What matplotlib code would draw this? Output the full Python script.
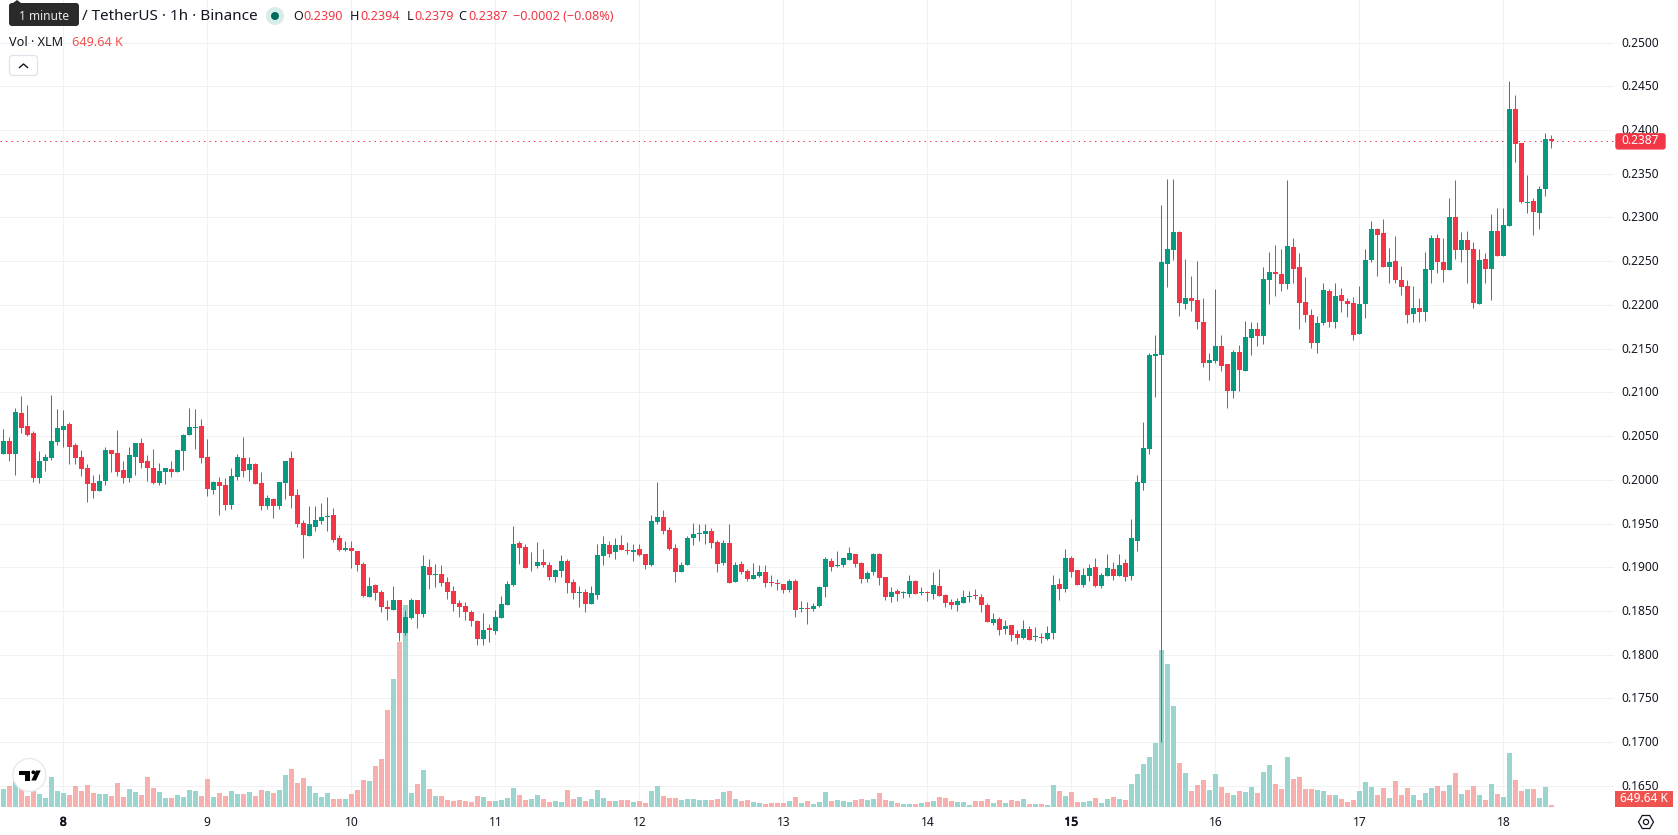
import numpy as np
import matplotlib
matplotlib.use("Agg")
import matplotlib.pyplot as plt
import matplotlib.patheffects as pe
from matplotlib.patches import Circle, FancyBboxPatch, Polygon, Rectangle, RegularPolygon
from matplotlib.transforms import ScaledTranslation

plt.rcParams['font.family'] = ['Noto Sans', 'DejaVu Sans']

# XLM/USDT hourly candles, prices in units of 0.0001
opens = [
    2030, 2044, 2030, 2076, 2061, 2053, 2002, 2021, 2025, 2043,
    2057, 2064, 2040, 2026, 2013, 1996, 1987, 1999, 2034, 2031,
    2011, 2002, 2026, 2042, 2021, 2014, 1996, 2009, 2012, 2009,
    2033, 2051, 2059, 2061, 2026, 1988, 1997, 1994, 1971, 2003,
    2025, 2011, 2018, 1996, 1970, 1978, 1970, 1996, 2025, 1983,
    1951, 1936, 1946, 1953, 1958, 1960, 1933, 1920, 1922, 1918,
    1904, 1866, 1880, 1872, 1854, 1851, 1863, 1825, 1842, 1862,
    1847, 1900, 1891, 1892, 1883, 1873, 1859, 1856, 1849, 1838,
    1818, 1830, 1827, 1842, 1857, 1880, 1928, 1923, 1902, 1901,
    1906, 1903, 1889, 1896, 1907, 1883, 1871, 1872, 1858, 1868,
    1913, 1925, 1917, 1925, 1920, 1917, 1921, 1915, 1902, 1952,
    1958, 1943, 1922, 1894, 1902, 1933, 1938, 1938, 1941, 1929,
    1905, 1928, 1883, 1904, 1896, 1886, 1890, 1894, 1883, 1882,
    1881, 1874, 1884, 1852, 1853, 1852, 1856, 1877, 1907, 1901,
    1903, 1908, 1915, 1905, 1887, 1894, 1915, 1889, 1866, 1873,
    1871, 1869, 1884, 1871, 1872, 1869, 1879, 1868, 1860, 1857,
    1859, 1866, 1868, 1866, 1857, 1836, 1841, 1829, 1834, 1824,
    1819, 1829, 1820, 1820, 1818, 1825, 1881, 1875, 1911, 1897,
    1880, 1890, 1900, 1879, 1890, 1898, 1890, 1905, 1890, 1930,
    1996, 2035, 2142, 2143, 2247, 2263, 2283, 2201, 2208, 2206,
    2180, 2133, 2136, 2153, 2132, 2102, 2146, 2124, 2162, 2173,
    2164, 2229, 2238, 2235, 2224, 2266, 2243, 2203, 2189, 2157,
    2179, 2216, 2181, 2211, 2205, 2202, 2167, 2201, 2251, 2287,
    2282, 2243, 2250, 2229, 2222, 2190, 2196, 2192, 2240, 2276,
    2249, 2240, 2300, 2263, 2274, 2264, 2201, 2252, 2241, 2285,
    2256, 2290, 2424, 2385, 2317, 2319, 2305, 2332, 2390,
]
highs = [
    2058, 2049, 2082, 2096, 2085, 2056, 2033, 2030, 2097, 2081,
    2080, 2066, 2042, 2034, 2018, 2006, 2007, 2038, 2034, 2057,
    2021, 2037, 2042, 2048, 2028, 2035, 2019, 2013, 2022, 2034,
    2052, 2082, 2081, 2070, 2047, 1999, 2003, 2002, 2013, 2030,
    2049, 2026, 2019, 2009, 1983, 1979, 1998, 2022, 2033, 1990,
    1954, 1970, 1970, 1973, 1980, 1968, 1937, 1930, 1930, 1919,
    1906, 1889, 1881, 1874, 1862, 1879, 1863, 1851, 1865, 1862,
    1914, 1909, 1904, 1903, 1889, 1879, 1863, 1860, 1851, 1840,
    1848, 1835, 1851, 1867, 1884, 1947, 1930, 1927, 1917, 1929,
    1921, 1906, 1898, 1914, 1909, 1886, 1879, 1875, 1879, 1926,
    1936, 1930, 1934, 1937, 1929, 1926, 1927, 1915, 1960, 1998,
    1965, 1946, 1927, 1906, 1936, 1951, 1949, 1950, 1945, 1931,
    1931, 1950, 1906, 1907, 1898, 1905, 1902, 1903, 1891, 1887,
    1881, 1886, 1887, 1861, 1860, 1859, 1879, 1912, 1911, 1919,
    1911, 1923, 1915, 1906, 1896, 1916, 1916, 1889, 1877, 1875,
    1873, 1891, 1885, 1877, 1873, 1895, 1898, 1869, 1864, 1865,
    1874, 1873, 1875, 1869, 1859, 1848, 1843, 1840, 1834, 1828,
    1840, 1833, 1832, 1825, 1833, 1891, 1888, 1921, 1913, 1897,
    1899, 1904, 1910, 1893, 1915, 1906, 1915, 1909, 1955, 2005,
    2066, 2145, 2166, 2314, 2344, 2344, 2284, 2252, 2233, 2250,
    2208, 2145, 2218, 2166, 2132, 2148, 2154, 2182, 2181, 2181,
    2243, 2261, 2268, 2264, 2343, 2277, 2259, 2232, 2195, 2187,
    2225, 2218, 2225, 2219, 2208, 2209, 2222, 2264, 2296, 2288,
    2298, 2265, 2279, 2244, 2228, 2222, 2208, 2261, 2280, 2281,
    2276, 2322, 2343, 2283, 2285, 2272, 2264, 2259, 2304, 2311,
    2311, 2456, 2440, 2385, 2348, 2322, 2336, 2397, 2394,
]
lows = [
    2030, 2022, 2006, 2053, 2050, 1997, 1996, 2010, 2023, 2040,
    2037, 2018, 2018, 2004, 1975, 1979, 1987, 1994, 2009, 2004,
    1996, 1997, 2005, 2014, 1999, 1995, 1994, 1995, 2003, 2009,
    2011, 2051, 2035, 2019, 1982, 1984, 1960, 1965, 1967, 2000,
    2003, 1999, 1995, 1966, 1967, 1956, 1967, 1978, 1968, 1946,
    1911, 1936, 1941, 1949, 1942, 1929, 1919, 1919, 1899, 1896,
    1866, 1866, 1863, 1849, 1840, 1851, 1816, 1823, 1841, 1831,
    1843, 1875, 1877, 1878, 1864, 1850, 1843, 1840, 1833, 1811,
    1811, 1815, 1824, 1842, 1857, 1879, 1904, 1899, 1896, 1899,
    1900, 1885, 1883, 1889, 1870, 1864, 1855, 1849, 1858, 1864,
    1903, 1912, 1909, 1920, 1915, 1907, 1913, 1898, 1901, 1950,
    1938, 1920, 1883, 1894, 1902, 1925, 1930, 1927, 1922, 1895,
    1902, 1882, 1883, 1892, 1884, 1886, 1889, 1877, 1879, 1874,
    1871, 1872, 1843, 1849, 1835, 1850, 1854, 1866, 1896, 1900,
    1900, 1908, 1900, 1882, 1883, 1891, 1880, 1863, 1860, 1861,
    1865, 1866, 1869, 1868, 1861, 1864, 1867, 1855, 1852, 1850,
    1859, 1860, 1864, 1849, 1837, 1834, 1822, 1824, 1816, 1812,
    1818, 1817, 1816, 1813, 1817, 1818, 1863, 1872, 1889, 1880,
    1877, 1884, 1877, 1876, 1890, 1885, 1890, 1884, 1885, 1918,
    1988, 2030, 2095, 1700, 2220, 2251, 2187, 2195, 2193, 2172,
    2129, 2114, 2134, 2124, 2082, 2094, 2102, 2124, 2143, 2153,
    2155, 2201, 2210, 2216, 2218, 2225, 2173, 2180, 2151, 2145,
    2177, 2175, 2174, 2192, 2186, 2160, 2167, 2185, 2249, 2233,
    2243, 2225, 2225, 2211, 2179, 2180, 2181, 2182, 2225, 2236,
    2226, 2240, 2252, 2249, 2225, 2197, 2201, 2225, 2206, 2256,
    2256, 2290, 2363, 2317, 2305, 2280, 2287, 2324, 2379,
]
closes = [
    2044, 2030, 2077, 2059, 2051, 2002, 2021, 2026, 2044, 2059,
    2062, 2038, 2025, 2012, 1995, 1987, 1999, 2034, 2029, 2009,
    2002, 2028, 2042, 2019, 2013, 1996, 2010, 2013, 2009, 2034,
    2051, 2060, 2060, 2025, 1989, 1997, 1993, 1971, 2004, 2026,
    2010, 2018, 1995, 1970, 1979, 1970, 1997, 2021, 1982, 1950,
    1937, 1949, 1954, 1958, 1959, 1931, 1920, 1922, 1918, 1902,
    1867, 1879, 1871, 1854, 1852, 1862, 1825, 1843, 1863, 1847,
    1901, 1891, 1892, 1882, 1872, 1858, 1855, 1849, 1838, 1818,
    1828, 1828, 1843, 1858, 1881, 1927, 1922, 1899, 1903, 1906,
    1902, 1889, 1897, 1907, 1882, 1871, 1872, 1858, 1871, 1914,
    1926, 1915, 1925, 1920, 1919, 1920, 1914, 1902, 1953, 1957,
    1942, 1921, 1894, 1903, 1933, 1938, 1939, 1942, 1928, 1904,
    1928, 1882, 1903, 1894, 1886, 1891, 1895, 1882, 1882, 1881,
    1874, 1884, 1851, 1853, 1852, 1856, 1877, 1909, 1900, 1902,
    1911, 1916, 1904, 1887, 1893, 1915, 1888, 1866, 1872, 1869,
    1872, 1884, 1869, 1872, 1871, 1880, 1867, 1859, 1857, 1861,
    1866, 1867, 1867, 1857, 1837, 1841, 1828, 1833, 1822, 1819,
    1829, 1817, 1820, 1819, 1825, 1880, 1875, 1911, 1895, 1880,
    1891, 1899, 1879, 1891, 1899, 1890, 1903, 1889, 1933, 1998,
    2036, 2143, 2144, 2249, 2264, 2283, 2202, 2208, 2204, 2180,
    2133, 2137, 2153, 2130, 2101, 2146, 2125, 2163, 2173, 2164,
    2230, 2238, 2235, 2224, 2267, 2241, 2202, 2189, 2156, 2179,
    2217, 2181, 2210, 2204, 2201, 2166, 2201, 2251, 2287, 2280,
    2243, 2249, 2228, 2221, 2189, 2196, 2192, 2241, 2277, 2249,
    2240, 2300, 2263, 2274, 2263, 2202, 2251, 2241, 2284, 2256,
    2291, 2424, 2384, 2318, 2318, 2306, 2332, 2390, 2387,
]
# traded volume per hour, in thousands
volumes = [
    5850, 6825, 8775, 6175, 3575, 5200, 4225, 2925, 9750, 5200,
    4550, 3900, 6825, 5200, 7150, 4550, 4225, 4225, 3575, 7800,
    3250, 5850, 4875, 3900, 9750, 6175, 4875, 2925, 2925, 3900,
    3250, 5525, 5200, 3575, 9100, 3250, 4550, 3575, 5200, 4225,
    4225, 4875, 3575, 5525, 5200, 4550, 5525, 10400, 12350, 7800,
    9425, 6825, 4550, 3250, 4550, 2600, 2600, 2600, 4225, 5525,
    8775, 8450, 13325, 15600, 31525, 41600, 53625, 65650, 4550, 7475,
    12025, 5850, 3575, 3575, 2275, 1950, 2275, 1950, 1625, 3575,
    3250, 1950, 1950, 2275, 2925, 6175, 3900, 2275, 2600, 3900,
    2600, 1625, 1950, 1625, 5525, 2600, 3250, 1950, 2600, 5525,
    2925, 1950, 1950, 2275, 2275, 1625, 1950, 1300, 5200, 6825,
    3575, 2925, 2925, 2275, 2600, 2600, 2275, 2275, 2275, 2600,
    4875, 5200, 2600, 1950, 2275, 1625, 1300, 975, 1300, 1300,
    1300, 1950, 3250, 1300, 1950, 975, 1625, 4875, 1950, 2275,
    1950, 1625, 2275, 2600, 2275, 2600, 4550, 2275, 1950, 1300,
    975, 975, 975, 1300, 1625, 1950, 3250, 2925, 1950, 1625,
    1625, 650, 1950, 1950, 2600, 1300, 2275, 1300, 2275, 1950,
    2600, 975, 975, 975, 650, 7150, 5200, 3575, 4875, 1625,
    1625, 1950, 2925, 1300, 2600, 3250, 2600, 2275, 7475, 10725,
    13975, 16250, 20800, 51025, 46475, 32825, 14300, 11050, 5200, 7150,
    8775, 5525, 10725, 6500, 4550, 3900, 5200, 4875, 6500, 4550,
    11375, 13650, 7475, 5850, 16250, 9100, 9750, 5850, 5850, 5525,
    5200, 3900, 3900, 2600, 1625, 2275, 5200, 8125, 6500, 3900,
    6175, 2925, 8450, 3900, 6175, 3900, 2275, 4550, 6175, 6825,
    5200, 7150, 11050, 4225, 5525, 6825, 3900, 2275, 7475, 4225,
    3250, 17550, 8775, 5200, 5850, 5850, 2925, 6500, 649.64,
]

price_ticks = [0.2500, 0.2450, 0.2400, 0.2350, 0.2300, 0.2250, 0.2200, 0.2150, 0.2100,
               0.2050, 0.2000, 0.1950, 0.1900, 0.1850, 0.1800, 0.1750, 0.1700, 0.1650]
day_ticks = [10, 34, 58, 82, 106, 130, 154, 178, 202, 226, 250]
day_labels = ['8', '9', '10', '11', '12', '13', '14', '15', '16', '17', '18']
bold_days = ['8', '15']
last_price = 0.2387

UP = '#089981'
DOWN = '#F23645'
UP_VOL = '#92D2CC'
DOWN_VOL = '#F7A9A7'
GRID = '#F0F1F3'
TEXT = '#131722'
PX = 0.72  # one pixel at dpi 100, in points

o = np.array(opens) / 10000
h = np.array(highs) / 10000
l = np.array(lows) / 10000
c = np.array(closes) / 10000
x = np.arange(len(o))
rising = c >= o

fig = plt.figure(figsize=(16.78, 8.35), dpi=100, facecolor='white')
ax = fig.add_axes([0, 28 / 835, 1614 / 1678, 807 / 835])
vol_ax = ax.twinx()
candle_ax = ax.twinx()
ax.set_zorder(1)
vol_ax.set_zorder(2)
candle_ax.set_zorder(3)

# Volume histogram sits behind the candles, on its own scale
vol_ax.bar(x, volumes, width=5 / 6, linewidth=0, color=[UP_VOL if r else DOWN_VOL for r in rising], alpha=0.92)

# Price marker line
candle_ax.axhline(last_price, color=DOWN, lw=PX, linestyle=(0, (1.4, 4.1)), zorder=1)

# Wicks then bodies, dojis keep at least a one pixel body
wicks = candle_ax.vlines(x, l, h, colors=[UP if r else DOWN for r in rising], linewidth=PX, zorder=2)
wicks.set_snap(True)
candle_ax.bar(x, np.maximum(np.abs(c - o), 0.0001), bottom=np.minimum(o, c), width=5 / 6, linewidth=0,
              color=[UP if r else DOWN for r in rising], zorder=3)

ax.set_xlim(-0.55, 268.45)
for a in (ax, candle_ax):
    a.set_ylim(0.16258, 0.25487)
vol_ax.set_ylim(0, 807 * 325)
vol_ax.axis('off')
candle_ax.axis('off')

ax.yaxis.tick_right()
ax.set_yticks(price_ticks)
ax.set_yticklabels(['%.4f' % p for p in price_ticks])
ax.set_xticks(day_ticks)
ax.set_xticklabels(day_labels)
ax.tick_params(axis='y', length=0, pad=5.5, labelsize=8.6, labelcolor=TEXT)
ax.tick_params(axis='x', length=0, pad=6.2, labelsize=8.6, labelcolor=TEXT)
nudge_up = ScaledTranslation(0, 1 / 100, fig.dpi_scale_trans)
for label in ax.get_yticklabels():
    label.set_transform(label.get_transform() + nudge_up)
# the installed Noto Sans has no heavy face, so thicken the month-week labels with a stroke
for label in ax.get_xticklabels():
    if label.get_text() in bold_days:
        label.set_path_effects([pe.withStroke(linewidth=0.6, foreground=TEXT)])
ax.grid(True, color=GRID, lw=PX)
ax.set_axisbelow(True)
for s in ax.spines.values():
    s.set_visible(False)

# Overlay in pixel units for the legend, tags and small widgets
ui = fig.add_axes([0, 0, 1, 1], zorder=10)
ui.set_xlim(0, 1678)
ui.set_ylim(835, 0)
ui.axis('off')
fig.canvas.draw()
tag_y = ui.transData.inverted().transform(candle_ax.transData.transform((0, last_price)))[1]

# Price and volume tags on the axis
ui.add_patch(FancyBboxPatch((1616, tag_y - 7.5), 49, 15, boxstyle='round,pad=0,rounding_size=2', fc=DOWN, ec=DOWN, lw=1))
ui.text(1640.5, tag_y - 0.5, '0.2387', color='white', fontsize=8.6, ha='center', va='center')
ui.add_patch(Rectangle((1615, 791), 58, 16, fc='#EF5350', ec='none'))
ui.text(1644, 798, '649.64 K', color='white', fontsize=8.6, ha='center', va='center')

# Legend rows
ui.add_patch(FancyBboxPatch((9, 3), 70, 23, boxstyle='round,pad=0,rounding_size=3', fc='#2A2A2A', ec='none'))
ui.add_patch(Polygon([(13, 3), (17, 0), (21, 3)], fc='#2A2A2A', ec='none'))
ui.text(44, 16, '1 minute', color='#E8E8E8', fontsize=8.6, ha='center', va='center')
ui.text(82, 17, '/ TetherUS · 1h · Binance', color=TEXT, fontsize=11, va='center')
ui.add_patch(Circle((275, 16), 9, fc='#D6EDE9', ec='none'))
ui.add_patch(Circle((275, 16), 4, fc='#006B5B', ec='none'))
for letter, lx, value, vx in [('O', 293, '0.2390', 303), ('H', 350, '0.2394', 360),
                              ('L', 406.5, '0.2379', 414), ('C', 458, '0.2387', 468)]:
    ui.text(lx, 17, letter, color=TEXT, fontsize=9.1, va='center')
    ui.text(vx, 17, value, color=DOWN, fontsize=9.1, va='center')
ui.text(513, 17, '−0.0002 (−0.08%)', color=DOWN, fontsize=9.1, va='center')
ui.text(9, 42, 'Vol · XLM', color=TEXT, fontsize=9.1, va='center')
ui.text(72, 42, '649.64 K', color='#EF5350', fontsize=9.1, va='center')

# Collapse button
ui.add_patch(FancyBboxPatch((9.5, 55.5), 28, 20, boxstyle='round,pad=0,rounding_size=3', fc='white', ec='#E0E3EB', lw=0.9))
ui.plot([19.5, 23.5, 27.5], [67.5, 64, 67.5], color=TEXT, lw=1)

# Logo badge
ui.add_patch(Circle((29.3, 775), 16.5, fc='white', ec='#E6E8EC', lw=0.9))
ui.add_patch(Polygon([(19, 770.5), (30, 770.5), (30, 780.5), (25, 780.5), (25, 774.5), (19, 774.5)], fc='black', ec='none'))
ui.add_patch(Circle((33.3, 772.3), 1.9, fc='black', ec='none'))
ui.add_patch(Polygon([(36, 770.5), (40.7, 770.5), (36, 780.5), (31.3, 780.5)], fc='black', ec='none'))

# Settings icon
ui.add_patch(RegularPolygon((1646, 822), 6, radius=7.5, orientation=np.pi / 6, fc='none', ec=TEXT, lw=0.9))
ui.add_patch(Circle((1646, 822), 2.6, fc='none', ec=TEXT, lw=0.9))

fig.savefig('out.png', dpi=100, facecolor='white')
